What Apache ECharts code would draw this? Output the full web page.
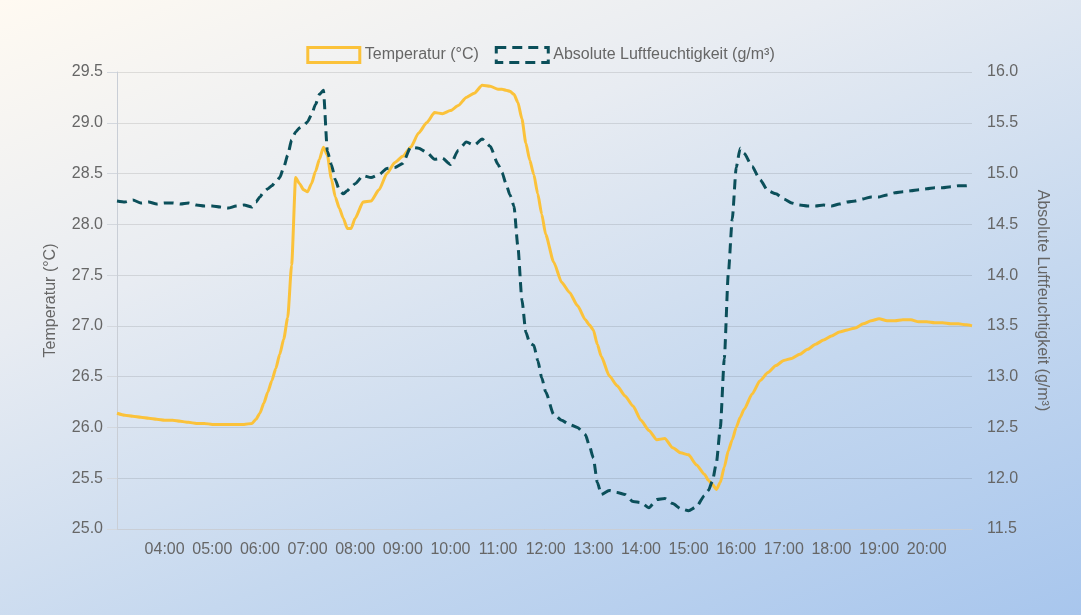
<!DOCTYPE html>
<html>
<head>
<meta charset="utf-8">
<script src="https://cdn.jsdelivr.net/npm/echarts@6/dist/echarts.min.js"></script>
<style>
    html, body {
        margin: 0;
        padding: 0;
        width: 1081px;
        height: 615px;
        overflow: hidden;
    }
    body {
        background: linear-gradient(158deg, #fffaf2 0%, #e8ecf2 32%, #c5d8ef 66%, #a8c6ed 100%);
    }
    #chart {
        width: 1081px;
        height: 615px;
    }
</style>
</head>
<body>
<div id="chart"></div>
<script>
// Messzeitpunkte (HH:MM)
var times = [
    '03:00', '03:10', '03:20', '03:30', '03:40', '03:50',
    '04:00', '04:10', '04:20', '04:30', '04:40', '04:50',
    '05:00', '05:10', '05:20', '05:30', '05:40', '05:50', '05:55',
    '06:00', '06:05', '06:10', '06:15', '06:20', '06:25', '06:30', '06:35', '06:40', '06:45', '06:50', '06:55',
    '07:00', '07:05', '07:10', '07:15', '07:20', '07:25', '07:30', '07:35', '07:40', '07:45', '07:50', '07:55',
    '08:00', '08:10', '08:20', '08:30', '08:40', '08:50',
    '09:00', '09:10', '09:20', '09:30', '09:40', '09:50',
    '10:00', '10:10', '10:20', '10:30', '10:40', '10:50',
    '11:00', '11:05', '11:10', '11:15', '11:20', '11:25', '11:30', '11:35', '11:40', '11:45', '11:50', '11:55',
    '12:00', '12:10', '12:20', '12:30', '12:40', '12:50', '12:55',
    '13:00', '13:05', '13:10', '13:20', '13:30', '13:40', '13:50',
    '14:00', '14:10', '14:20', '14:30', '14:40', '14:50',
    '15:00', '15:10', '15:20', '15:25', '15:30', '15:35', '15:40', '15:45', '15:50', '15:55',
    '16:00', '16:05', '16:10', '16:20', '16:30', '16:40', '16:50',
    '17:00', '17:10', '17:20', '17:30', '17:40', '17:50',
    '18:00', '18:10', '18:20', '18:30', '18:40', '18:50',
    '19:00', '19:10', '19:20', '19:30', '19:40', '19:50',
    '20:00', '20:10', '20:20', '20:30', '20:40', '20:50', '20:57'
];

// Temperatur (°C)
var temperatur = [
    26.14, 26.12, 26.11, 26.10, 26.09, 26.08,
    26.07, 26.07, 26.06, 26.05, 26.04, 26.04,
    26.03, 26.03, 26.03, 26.03, 26.03, 26.04, 26.08,
    26.14, 26.24, 26.35, 26.46, 26.58, 26.72, 26.87, 27.08, 27.60, 28.46, 28.40, 28.34,
    28.32, 28.40, 28.52, 28.64, 28.76, 28.68, 28.45, 28.27, 28.16, 28.06, 27.96, 27.96,
    28.06, 28.22, 28.23, 28.34, 28.50, 28.61,
    28.67, 28.76, 28.90, 29.00, 29.10, 29.09,
    29.12, 29.17, 29.25, 29.29, 29.37, 29.36,
    29.33, 29.33, 29.32, 29.31, 29.28, 29.20, 29.04, 28.80, 28.63, 28.49, 28.30, 28.10,
    27.90, 27.63, 27.43, 27.33, 27.20, 27.06, 27.01,
    26.96, 26.82, 26.70, 26.51, 26.41, 26.31, 26.21,
    26.07, 25.97, 25.88, 25.89, 25.80, 25.75,
    25.73, 25.63, 25.54, 25.48, 25.44, 25.39, 25.46, 25.61, 25.77, 25.88,
    26.00, 26.10, 26.18, 26.33, 26.46, 26.54, 26.61,
    26.66, 26.68, 26.72, 26.77, 26.82, 26.86,
    26.90, 26.94, 26.96, 26.98, 27.02, 27.05,
    27.07, 27.05, 27.05, 27.06, 27.06, 27.04,
    27.04, 27.03, 27.03, 27.02, 27.02, 27.01, 27.00
];

// Absolute Luftfeuchtigkeit (g/m³)
var feuchte = [
    14.73, 14.72, 14.74, 14.71, 14.72, 14.70,
    14.71, 14.71, 14.70, 14.71, 14.69, 14.68,
    14.68, 14.67, 14.66, 14.68, 14.69, 14.67, 14.72,
    14.77, 14.82, 14.85, 14.88, 14.92, 14.96, 15.06, 15.18, 15.33, 15.41, 15.45, 15.47,
    15.51, 15.58, 15.68, 15.78, 15.82, 15.22, 15.09, 14.94, 14.84, 14.80, 14.83, 14.87,
    14.90, 14.98, 14.96, 14.99, 15.05, 15.06,
    15.10, 15.26, 15.25, 15.21, 15.14, 15.15,
    15.09, 15.23, 15.31, 15.28, 15.34, 15.27,
    15.09, 15.01, 14.90, 14.79, 14.68, 14.28, 13.76, 13.44, 13.33, 13.31, 13.16, 12.99,
    12.85, 12.63, 12.57, 12.53, 12.50, 12.43, 12.32,
    12.20, 11.96, 11.84, 11.88, 11.86, 11.84, 11.77,
    11.76, 11.71, 11.79, 11.80, 11.75, 11.70,
    11.68, 11.72, 11.83, 11.88, 11.97, 12.15, 12.50, 13.18, 14.01, 14.55,
    15.06, 15.25, 15.20, 15.07, 14.94, 14.83, 14.80,
    14.75, 14.71, 14.69, 14.68, 14.68, 14.69,
    14.68, 14.70, 14.72, 14.73, 14.75, 14.77,
    14.77, 14.79, 14.81, 14.82, 14.83, 14.84,
    14.85, 14.86, 14.86, 14.87, 14.88, 14.88, 14.89
];

var farbeTemp = '#fbc23a';
var farbeFeuchte = '#0b4f5a';
var schrift = 'Liberation Sans, Arial, Helvetica, sans-serif';

// HH:MM -> Stunden als Zahl
function stunden(s) {
    var p = s.split(':');
    return parseInt(p[0], 10) + parseInt(p[1], 10) / 60;
}

function paare(werte) {
    return times.map(function (t, i) {
        return [stunden(t), werte[i]];
    });
}

var myChart = echarts.init(document.getElementById('chart'), null, {renderer: 'canvas'});

var option = {
    backgroundColor: 'transparent',
    textStyle: {fontFamily: schrift},
    animation: false,
    grid: {
        left: 117,
        right: 109,
        top: 72,
        bottom: 86
    },
    legend: {
        top: 41,
        left: 'center',
        icon: 'rect',
        itemWidth: 52,
        itemHeight: 15,
        itemGap: 16,
        textStyle: {color: '#666', fontSize: 16, fontFamily: schrift},
        data: [
            {
                name: 'Temperatur (°C)',
                itemStyle: {color: 'rgba(0,0,0,0)', borderColor: farbeTemp, borderWidth: 3}
            },
            {
                name: 'Absolute Luftfeuchtigkeit (g/m³)',
                itemStyle: {color: 'rgba(0,0,0,0)', borderColor: farbeFeuchte, borderWidth: 3, borderType: [10, 6]}
            }
        ]
    },
    xAxis: {
        type: 'value',
        min: 3,
        max: 20.95,
        interval: 1,
        axisLine: {show: true, lineStyle: {color: '#c9ced6'}},
        axisTick: {show: false},
        splitLine: {show: false},
        axisLabel: {
            color: '#666',
            fontSize: 16,
            margin: 13,
            showMinLabel: false,
            showMaxLabel: false,
            formatter: function (v) {
                var h = Math.round(v);
                return (h < 10 ? '0' : '') + h + ':00';
            }
        }
    },
    yAxis: [
        {
            type: 'value',
            min: 25,
            max: 29.5,
            interval: 0.5,
            name: 'Temperatur (°C)',
            nameLocation: 'middle',
            nameGap: 58,
            nameTextStyle: {color: '#666', fontSize: 16},
            axisLine: {show: true, lineStyle: {color: '#c9ced6'}},
            axisTick: {show: true, length: 10, lineStyle: {color: '#d3d7dd'}},
            splitLine: {lineStyle: {color: 'rgba(0,0,0,0.1)'}},
            axisLabel: {
                color: '#666',
                fontSize: 16,
                margin: 14,
                formatter: function (v) { return v.toFixed(1); }
            }
        },
        {
            type: 'value',
            position: 'right',
            min: 11.5,
            max: 16,
            interval: 0.5,
            name: 'Absolute Luftfeuchtigkeit (g/m³)',
            nameLocation: 'middle',
            nameRotate: -90,
            nameGap: 62,
            nameTextStyle: {color: '#666', fontSize: 16},
            axisLine: {show: false},
            axisTick: {show: false},
            splitLine: {show: false},
            axisLabel: {
                color: '#666',
                fontSize: 16,
                margin: 15,
                formatter: function (v) { return v.toFixed(1); }
            }
        }
    ],
    series: [
        {
            name: 'Temperatur (°C)',
            type: 'line',
            yAxisIndex: 0,
            data: paare(temperatur),
            showSymbol: false,
            symbol: 'none',
            smooth: 0.2,
            smoothMonotone: 'x',
            itemStyle: {color: farbeTemp},
            lineStyle: {color: farbeTemp, width: 3}
        },
        {
            name: 'Absolute Luftfeuchtigkeit (g/m³)',
            type: 'line',
            yAxisIndex: 1,
            data: paare(feuchte),
            showSymbol: false,
            symbol: 'none',
            smooth: 0.2,
            smoothMonotone: 'x',
            itemStyle: {color: farbeFeuchte},
            lineStyle: {color: farbeFeuchte, width: 3, type: [10, 6]}
        }
    ]
};

myChart.setOption(option);
</script>
</body>
</html>
